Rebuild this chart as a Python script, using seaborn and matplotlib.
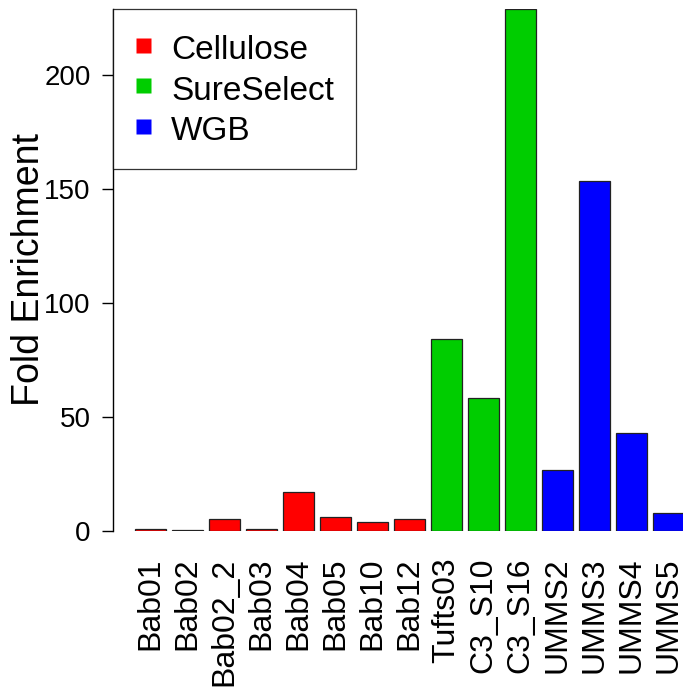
import matplotlib
matplotlib.use("Agg")
import matplotlib.pyplot as plt
import seaborn as sns
import pandas as pd
from matplotlib.lines import Line2D

samples = ["Bab01", "Bab02", "Bab02_2", "Bab03", "Bab04", "Bab05", "Bab10", "Bab12",
           "Tufts03", "C3_S10", "C3_S16", "UMMS2", "UMMS3", "UMMS4", "UMMS5"]
enrichment = [0.8, 0.3, 5.3, 1.0, 17.0, 6.0, 3.8, 5.4,
              84.2, 58.3, 228.8, 26.8, 153.5, 43.0, 7.8]
method = ["Cellulose"] * 8 + ["SureSelect"] * 3 + ["WGB"] * 4
methods = ["Cellulose", "SureSelect", "WGB"]
colors = ["#FF0000", "#00CD00", "#0000FF"]

df = pd.DataFrame({"sample": samples, "enrichment": enrichment, "method": method})

sns.set_style("white")
plt.rcParams["font.family"] = ["Liberation Sans", "DejaVu Sans"]
for key in ["text.color", "axes.labelcolor", "xtick.color", "ytick.color"]:
    plt.rcParams[key] = "black"

fig = plt.figure(figsize=(6.83, 6.91), dpi=100)
ax = fig.add_axes([113 / 683, 1 - 531 / 691, 1 - 113 / 683, (531 - 9) / 691])

sns.barplot(data=df, x="sample", y="enrichment", hue="method", hue_order=methods,
            palette=colors, dodge=False, width=0.84, edgecolor="#222222",
            linewidth=0.9, saturation=1, legend=False, ax=ax)

ax.set_xlim(-1.01, 14.39)
ax.set_ylim(0, 229)
ax.set_yticks([0, 50, 100, 150, 200])
ax.tick_params(axis="y", direction="out", length=8, width=1, labelsize=20, pad=8,
               left=True)
ax.tick_params(axis="x", length=0, labelsize=23, pad=19, labelrotation=90)
for s in ["top", "right", "bottom"]:
    ax.spines[s].set_visible(False)
ax.spines["left"].set_color("black")
ax.spines["left"].set_linewidth(1)
ax.set_xlabel("")
ax.set_ylabel("Fold Enrichment", fontsize=27)
ax.yaxis.set_label_coords(-0.115, 0.5)

# square swatches as markers so they stay small inside taller legend rows
handles = [Line2D([], [], linestyle="none", marker="s", markersize=10.8,
                  markerfacecolor=c, markeredgecolor="none") for c in colors]
leg = ax.legend(handles, methods, loc="upper left", bbox_to_anchor=(0, 1),
                borderaxespad=0, frameon=True, fancybox=False, fontsize=24,
                handlelength=0.5, handleheight=1.2, handletextpad=0.6,
                labelspacing=0.16, borderpad=0.65, numpoints=1)
leg.get_frame().set_edgecolor("black")
leg.get_frame().set_linewidth(0.9)

fig.savefig("out.png", dpi=100)
